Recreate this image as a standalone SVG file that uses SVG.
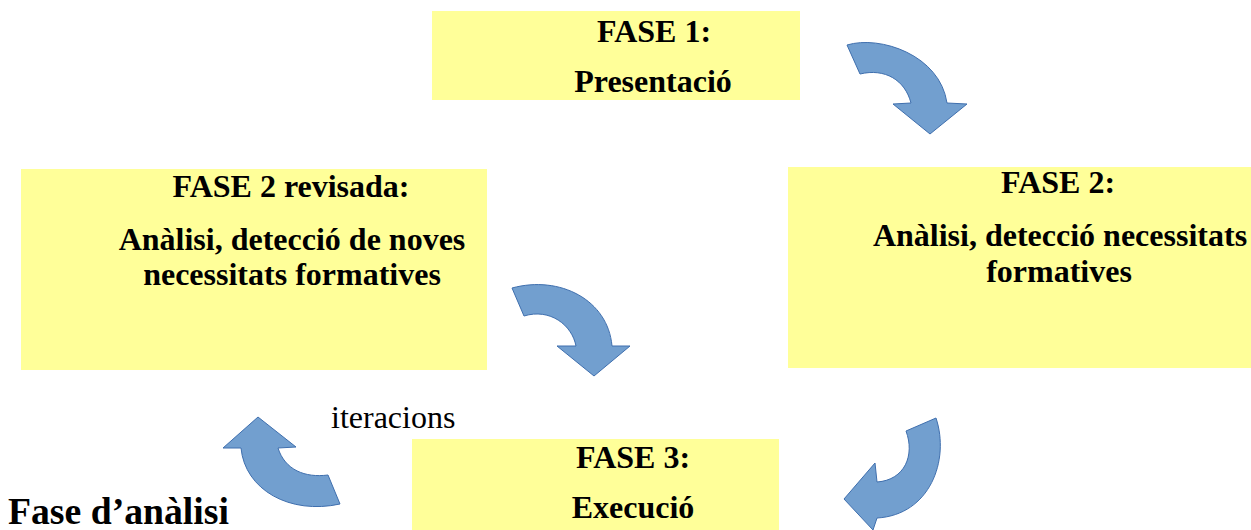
<svg xmlns="http://www.w3.org/2000/svg" width="1251" height="530" viewBox="0 0 1251 530">
<style>
.box{fill:#ffff99;}
.t{font-family:"Liberation Serif",serif;font-weight:bold;font-size:32px;fill:#000;text-anchor:middle;}
.r{font-family:"Liberation Serif",serif;font-size:32px;fill:#000;}
.arr{fill:#729fcf;stroke:#3f6fae;stroke-width:1;}
</style>
<rect width="1251" height="530" fill="#fff"/>
<g id="fase1">
<rect class="box" x="432" y="11" width="368" height="89"/>
<text class="t" x="654" y="42">FASE 1:</text>
<text class="t" x="653" y="92">Presentació</text>
</g>
<g id="fase2">
<rect class="box" x="788" y="167" width="463" height="201"/>
<text class="t" x="1058" y="193">FASE 2:</text>
<text class="t" x="1060" y="246">Anàlisi, detecció necessitats</text>
<text class="t" x="1059" y="282">formatives</text>
</g>
<g id="fase2rev">
<rect class="box" x="21" y="169" width="466" height="201"/>
<text class="t" x="291" y="197">FASE 2 revisada:</text>
<text class="t" x="292" y="250">Anàlisi, detecció de noves</text>
<text class="t" x="292" y="285">necessitats formatives</text>
</g>
<g id="fase3">
<rect class="box" x="412" y="439" width="367" height="91"/>
<text class="t" x="633" y="468">FASE 3:</text>
<text class="t" x="633" y="518">Execució</text>
</g>
<g id="labels">
<text class="r" x="331" y="428">iteracions</text>
<text class="t" x="8" y="524" style="text-anchor:start;font-size:37.7px">Fase d’anàlisi</text>
</g>
<g id="connectors">
<path class="arr" d="M847,45 C880,35 940,55 947,103 L967,104 L930,134 L893,104 L911,103 C905,80 885,68 860,74 Z"/>
<path class="arr" d="M512,288 C560,275 608,300 612,346 L630,346 L594,376 L557,346 L576,346 C572,325 550,308 524,316 Z"/>
<path class="arr" d="M936,418 C950,460 930,515 877,518 L873,530 L844,499 L875,463 L877,482 C905,480 915,455 906,431 Z"/>
<path class="arr" d="M258,417 L296,447 L278,448 C285,470 305,478 328,475 L340,504 C290,515 245,490 241,448 L223,448 Z"/>
</g>
</svg>
